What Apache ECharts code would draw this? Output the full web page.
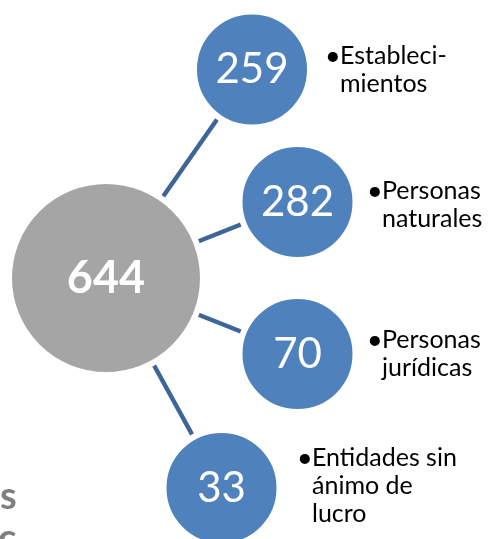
<!DOCTYPE html>
<html>
<head>
<meta charset="utf-8">
<script src="https://cdn.jsdelivr.net/npm/echarts@6/dist/echarts.min.js"></script>
<style>html,body{margin:0;padding:0;background:#fff;}#c{width:489px;height:539px;}</style>
</head>
<body>
<div id="c"></div>
<script>
// ---- data ----
const totalValue = 644;
const categories = ['Estableci-\nmientos', 'Personas\nnaturales', 'Personas\njurídicas', 'Entidades sin\nánimo de\nlucro'];
const values = [259, 282, 70, 33];
const fragments = ['s', 'c'];

// ---- layout (positions, sizes, styles) ----
const FONT = 'Lato, "Open Sans", sans-serif';
const centerPos = [106, 278];
const nodePos = [[252, 69.5], [297.5, 202], [297.5, 354], [221.5, 488]];
const labelPos = [[325, 42], [367, 177], [367, 326], [297, 444]];
const GAP = 6;
const bigR = 94, smallR = 55;

const nodes = [{
  name: 'total',
  value: centerPos,
  symbolSize: 2 * (bigR + GAP / 2),
  itemStyle: { color: '#a5a5a5', borderColor: '#ffffff', borderWidth: GAP },
  label: { show: true, position: 'inside', formatter: String(totalValue), color: '#fff', fontSize: 45, fontWeight: 'bold', fontFamily: FONT }
}];
values.forEach((v, i) => {
  nodes.push({
    name: 'n' + i,
    value: nodePos[i],
    symbolSize: 2 * (smallR + GAP / 2),
    itemStyle: { color: '#4f81bd', borderColor: '#ffffff', borderWidth: GAP },
    label: { show: true, position: 'inside', formatter: String(v), color: '#fff', fontSize: 42, fontFamily: FONT }
  });
});
const links = values.map((v, i) => ({ source: 'total', target: 'n' + i }));

const graphics = [];
categories.forEach((c, i) => {
  graphics.push({ type: 'text', left: labelPos[i][0], top: labelPos[i][1],
    style: { text: '•', fill: '#000', fontSize: 27, fontFamily: FONT, lineHeight: 28 } });
  graphics.push({ type: 'text', left: labelPos[i][0] + 15, top: labelPos[i][1],
    style: { text: c, fill: '#000', fontSize: 25, fontFamily: FONT, lineHeight: 28 } });
});
graphics.push({ type: 'text', left: 0, top: 478, style: { text: fragments[0], fill: '#7f7f7f', fontSize: 38, fontWeight: 'bold', fontFamily: FONT } });
graphics.push({ type: 'text', left: -2, top: 520, style: { text: fragments[1], fill: '#7f7f7f', fontSize: 38, fontWeight: 'bold', fontFamily: FONT } });

const chart = echarts.init(document.getElementById('c'));
chart.setOption({
  animation: false,
  grid: { left: 0, right: 0, top: 0, bottom: 0 },
  xAxis: { type: 'value', min: 0, max: 489, show: false },
  yAxis: { type: 'value', min: 0, max: 539, inverse: true, show: false },
  series: [{
    type: 'graph',
    coordinateSystem: 'cartesian2d',
    silent: true,
    data: nodes,
    links: links,
    edgeSymbol: ['none', 'none'],
    lineStyle: { color: '#3d6597', width: 4.5, opacity: 1, curveness: 0 },
    emphasis: { disabled: true }
  }],
  graphic: graphics
});
</script>
</body>
</html>
